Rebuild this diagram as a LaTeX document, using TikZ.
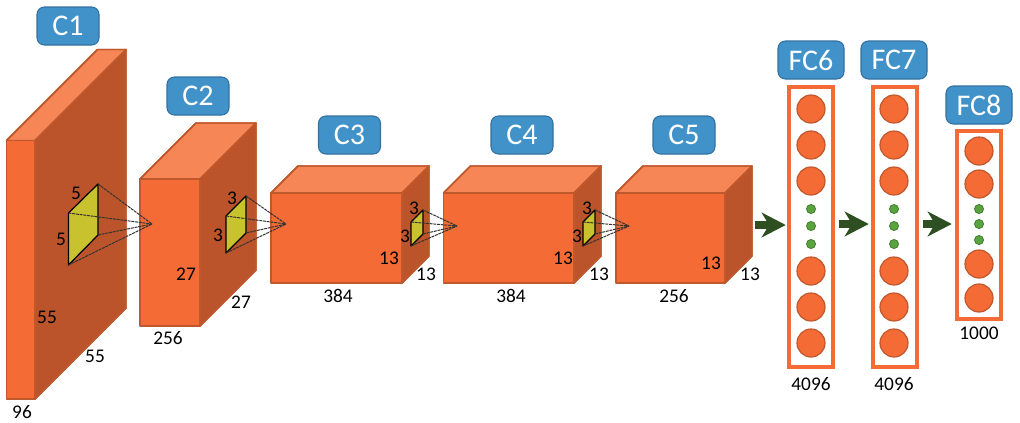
\documentclass[tikz,border=0pt]{standalone}
\usepackage{fontspec}
\setmainfont{Carlito}
\usetikzlibrary{arrows.meta}
\definecolor{frontc}{HTML}{F46B36}
\definecolor{topc}{HTML}{F78657}
\definecolor{sidec}{HTML}{BC542B}
\definecolor{edgec}{HTML}{C0582D}
\definecolor{kernelc}{HTML}{C8C22E}
\definecolor{tagc}{HTML}{4292CA}
\definecolor{tagedge}{HTML}{33719F}
\definecolor{dotc}{HTML}{5BA33F}
\definecolor{dotedge}{HTML}{3F7F2F}
\definecolor{arrowc}{HTML}{2E4F22}
\tikzset{
  facefront/.style={fill=frontc,draw=edgec,line width=1.1pt,line join=round},
  facetop/.style={fill=topc,draw=edgec,line width=1.1pt,line join=round},
  faceside/.style={fill=sidec,draw=edgec,line width=1.1pt,line join=round},
  kernelface/.style={fill=kernelc,draw=black,line width=0.9pt,line join=round},
  rfline/.style={draw=black!80,line width=0.75pt,dash pattern=on 2.2pt off 0.6pt},
  tag/.style={fill=tagc,draw=tagedge,line width=0.8pt,rounded corners=5.5pt,text=white,font=\fontsize{22.5}{22.5}\selectfont,inner sep=0pt,minimum height=28.5pt},
  ctag/.style={tag,minimum width=46.5pt},
  fctag/.style={tag,minimum width=49.5pt},
  dim/.style={font=\fontsize{14.5}{15}\selectfont,text=black,inner sep=0pt},
  column/.style={draw=frontc,line width=3.4pt,fill=white,minimum width=33pt,inner sep=0pt},
  neuron/.style={circle,fill=frontc,draw=edgec,line width=0.9pt,minimum size=21pt,inner sep=0pt},
  minidot/.style={circle,fill=dotc,draw=dotedge,line width=0.6pt,minimum size=6.8pt,inner sep=0pt},
  flow/.style={draw=arrowc,line width=6pt,-{Stealth[length=18pt,width=18.5pt,inset=5.5pt]},shorten >=0pt}
}
% x0 y0 front corner (top-left), x1 y1 front corner (bottom-right), d depth
\newcommand{\cuboid}[5]{%
  \fill[faceside] (#3,#2) -- (#3+#5,#2-#5) -- (#3+#5,#4-#5) -- (#3,#4) -- cycle;
  \fill[facetop] (#1,#2) -- (#1+#5,#2-#5) -- (#3+#5,#2-#5) -- (#3,#2) -- cycle;
  \fill[facefront] (#1,#2) rectangle (#3,#4);
  \draw[faceside,fill=none] (#3,#2) -- (#3+#5,#2-#5) -- (#3+#5,#4-#5) -- (#3,#4);
  \draw[facetop,fill=none] (#1,#2) -- (#1+#5,#2-#5) -- (#3+#5,#2-#5);
}
% name, xl, ytopleft, ybottomleft, xr, ytopright, ybottomright, apexx, apexy
\newcommand{\kernelpatch}[9]{%
  \coordinate (#1a) at (#2,#3);
  \coordinate (#1b) at (#5,#6);
  \coordinate (#1c) at (#5,#7);
  \coordinate (#1d) at (#2,#4);
  \coordinate (#1apex) at (#8,#9);
  \path[kernelface] (#1a) -- (#1b) -- (#1c) -- (#1d) -- cycle;
  \foreach \corner in {a,b,c,d} \draw[rfline] (#1\corner) -- (#1apex);
}
\begin{document}
\begin{tikzpicture}[x=0.75pt,y=-0.75pt]
\useasboundingbox (0,0) rectangle (1020,422);
% cuboids
\cuboid{6.5}{140.5}{35}{399}{91}
\cuboid{140}{179}{200}{326}{56}
\cuboid{271}{193}{402}{283}{27}
\cuboid{443.5}{193}{574}{283}{27}
\cuboid{616}{193}{725}{283}{27}
% kernels
\kernelpatch{ka}{68.5}{213}{265}{98}{184}{235}{152}{224}
\kernelpatch{kb}{226}{216}{253}{246}{196}{233}{286}{224}
\kernelpatch{kc}{411}{222}{246}{423}{210}{234}{457}{226}
\kernelpatch{kd}{583}{222}{246}{595}{210}{234}{629}{226}
% layer tags
\node[ctag] (c1) at (68,26) {C1};
\node[ctag] (c2) at (198,96) {C2};
\node[ctag] (c3) at (349.5,135) {C3};
\node[ctag] (c4) at (522,135) {C4};
\node[ctag] (c5) at (684,135) {C5};
\node[fctag] (fc6t) at (811,60) {FC6};
\node[fctag] (fc7t) at (894,60) {FC7};
\node[fctag] (fc8t) at (979,105) {FC8};
% fully connected columns
\node[column,minimum height=210pt] (fc6) at (811,227) {};
\node[column,minimum height=210pt] (fc7) at (895,227) {};
\node[column,minimum height=141pt] (fc8) at (979,225) {};
\foreach \n/\cy in {1/109,2/145,3/181,4/271,5/307,6/343}{
  \node[neuron] (fc6n\n) at (811,\cy) {};
  \node[neuron] (fc7n\n) at (894,\cy) {};
}
\foreach \n/\cy in {1/209,2/226,3/244}{
  \node[minidot] (fc6d\n) at (811,\cy) {};
  \node[minidot] (fc7d\n) at (894,\cy) {};
}
\foreach \n/\cy in {1/151,2/184,3/264,4/298}
  \node[neuron] (fc8n\n) at (979,\cy) {};
\foreach \n/\cy in {1/209,2/224,3/240}
  \node[minidot] (fc8d\n) at (979,\cy) {};
% arrows
\coordinate (outc5) at (754.5,225);
\draw[flow] (outc5) -- ([shift={(-1,-2)}]fc6.west);
\draw[flow] ([shift={(4,-3)}]fc6.east) -- ([shift={(-2,-3)}]fc7.west);
\draw[flow] ([shift={(4,-3)}]fc7.east) -- ([shift={(-3,-1)}]fc8.west);
% dimensions
\node[dim] (l96) at (22,412) {96};
\node[dim] (l55a) at (47,317) {55};
\node[dim] (l55b) at (95,356) {55};
\node[dim] (l5a) at (76,193) {5};
\node[dim] (l5b) at (61,239) {5};
\node[dim] (l256a) at (168,338) {256};
\node[dim] (l27a) at (186,274) {27};
\node[dim] (l27b) at (241,302) {27};
\node[dim] (l3a) at (232,198) {3};
\node[dim] (l3b) at (218,235) {3};
\node[dim] (l384a) at (338,296) {384};
\node[dim] (l13a) at (389,258) {13};
\node[dim] (l13b) at (426,274) {13};
\node[dim] (l3c) at (414,208) {3};
\node[dim] (l3d) at (405,236) {3};
\node[dim] (l384b) at (511,296) {384};
\node[dim] (l13c) at (563,258) {13};
\node[dim] (l13d) at (599,274) {13};
\node[dim] (l3e) at (587,208) {3};
\node[dim] (l3f) at (577,236) {3};
\node[dim] (l256b) at (674,296) {256};
\node[dim] (l13e) at (711,263) {13};
\node[dim] (l13f) at (750,274) {13};
\node[dim] (l4096a) at (811,384) {4096};
\node[dim] (l4096b) at (894,384) {4096};
\node[dim] (l1000) at (979,333) {1000};
\end{tikzpicture}
\end{document}
